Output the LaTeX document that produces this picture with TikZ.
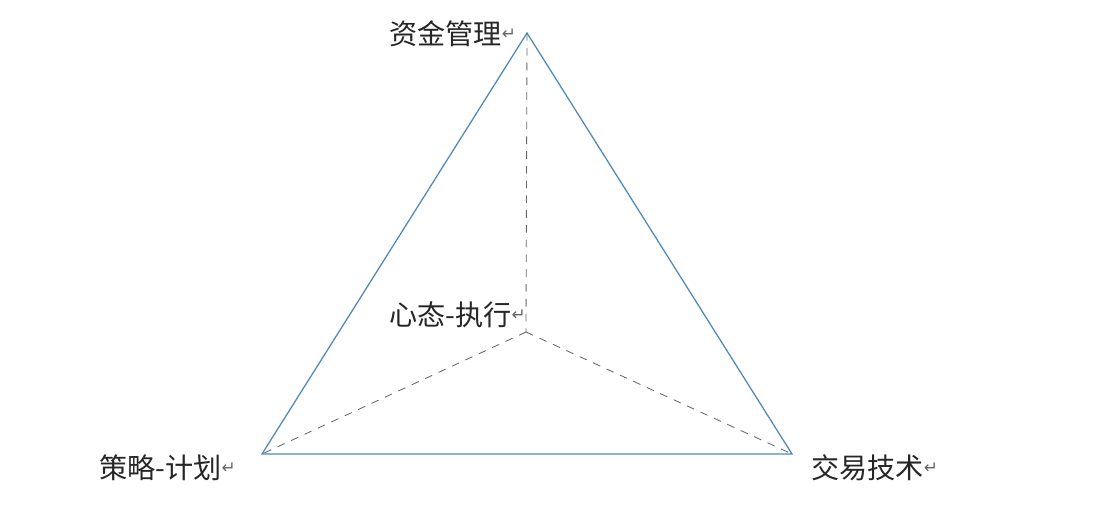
\documentclass[tikz,border=0pt]{standalone}
\usepackage{fontspec}
\newfontfamily\cjk{Noto Sans CJK SC}
\newfontfamily\retfont{DejaVu Sans}
\usepackage{tikz}
\definecolor{edgeblue}{RGB}{80,136,186}
\definecolor{hidgrey}{RGB}{95,105,115}
\tikzstyle{corner} = [font=\cjk\fontsize{20}{23}\selectfont, inner sep=0pt, anchor=west, text=black!85]
\tikzstyle{edge} = [edgeblue, line width=0.9pt]
\tikzstyle{hid} = [hidgrey, dash pattern=on 5.5pt off 5pt, line width=0.6pt]
\newcommand{\ret}{\raisebox{0.2em}{\retfont\fontsize{12}{12}\selectfont\color{black!60}↵}}

\begin{document}
\begin{tikzpicture}[x=0.025cm,y=-0.025cm]
        \useasboundingbox (0,0) rectangle (1098,528);
        % corners of the pyramid
        \coordinate (top) at (527,33);
        \coordinate (left) at (262,454);
        \coordinate (right) at (792,454);
        \coordinate (mid) at (526,332);
        % labels
        \node (money) [corner] at (389,34) {资金管理\ret};
        \node (mind) [corner] at (389,315) {心态-执行\ret};
        \node (plan) [corner] at (99,468) {策略-计划\ret};
        \node (tech) [corner] at (811,468) {交易技术\ret};
        % visible edges
        \draw [edge] (top) -- (left) -- (right) -- cycle;
        % hidden edges
        \draw [hid] (top) -- (mid);
        \draw [hid] (mid) -- (left);
        \draw [hid] (mid) -- (right);
    \end{tikzpicture}
\end{document}
